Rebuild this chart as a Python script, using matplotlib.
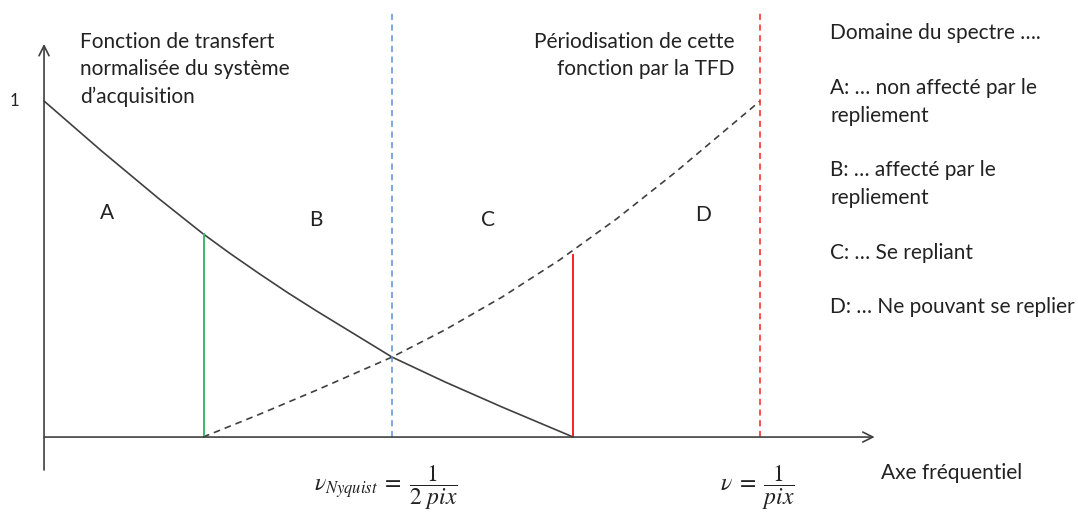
import matplotlib
matplotlib.use("Agg")
import matplotlib.pyplot as plt

plt.rcParams['font.family'] = ['Lato', 'DejaVu Sans']
plt.rcParams['mathtext.fontset'] = 'stix'

# frequency axis: 0 = origin, 1 = 1/pix ; gain axis: 0..1 (normalised)
f_nyquist = 0.486
f_sample = 1.0
f_green = 0.223
f_red = 0.739

# transfer function of the acquisition system
h_freq = [0.0, 0.08, 0.16, 0.222, 0.26, 0.30, 0.34, 0.38, 0.486, 0.56, 0.64, 0.739]
h_gain = [1.0, 0.852, 0.710, 0.605, 0.546, 0.487, 0.430, 0.376, 0.238, 0.164, 0.089, 0.0]

# periodisation by the DFT (mirror copy)
p_freq = [0.222, 0.30, 0.38, 0.486, 0.56, 0.64, 0.72, 0.80, 0.88, 1.0]
p_gain = [0.0, 0.067, 0.139, 0.238, 0.319, 0.417, 0.527, 0.650, 0.785, 1.0]

green_top = 0.604
red_top = 0.542

zone_labels = ['A', 'B', 'C', 'D']
zone_x = [0.088, 0.380, 0.620, 0.920]
zone_y = [0.667, 0.646, 0.646, 0.661]

legend_lines = ["Domaine du spectre \u2026.",
                "A: \u2026 non affect\u00e9 par le", "repliement",
                "B: \u2026 affect\u00e9 par le", "repliement",
                "C: \u2026 Se repliant",
                "D: \u2026 Ne pouvant se replier"]
legend_y = [1.202, 1.039, 0.955, 0.795, 0.711, 0.548, 0.387]

fig = plt.figure(figsize=(10.78, 5.13), dpi=100)
ax = fig.add_axes([0, 0, 1, 1])
ax.set_xlim(-0.0615, 1.444)
ax.set_ylim(-0.226, 1.3006)
ax.axis('off')

dark = '#404040'
txt = '#222222'
fs = 15

# axes with arrows
ax.annotate('', xy=(0, 1.17), xytext=(0, -0.098),
            arrowprops=dict(arrowstyle='->', color=dark, lw=1.2,
                            mutation_scale=18, shrinkA=0, shrinkB=0))
ax.annotate('', xy=(1.16, 0), xytext=(0, 0),
            arrowprops=dict(arrowstyle='->', color=dark, lw=1.2,
                            mutation_scale=18, shrinkA=0, shrinkB=0))

# curves
ax.plot(h_freq, h_gain, color=dark, lw=1.2, solid_joinstyle='round')
ax.plot(p_freq, p_gain, color=dark, lw=1.2, ls=(0, (4, 3)))

# vertical markers
ax.plot([f_nyquist, f_nyquist], [0, 1.271], color='#5b8fd6', lw=1.1, ls=(0, (4, 3)))
ax.plot([f_sample, f_sample], [0, 1.271], color='#ff2020', lw=1.1, ls=(0, (4, 3)))
ax.plot([f_green, f_green], [0, green_top], color='#3cb868', lw=1.4)
ax.plot([f_red, f_red], [0, red_top], color='#ff2020', lw=1.4)

ax.text(-0.042, 1.0, '1', fontsize=12, ha='center', va='center', color=txt)

for lab, x, y in zip(zone_labels, zone_x, zone_y):
    ax.text(x, y, lab, fontsize=fs, ha='center', va='center', color=txt)

ax.text(0.050, 1.205, "Fonction de transfert\nnormalis\u00e9e du syst\u00e8me\nd\u2019acquisition",
        fontsize=fs, ha='left', va='top', linespacing=1.45, color=txt)
ax.text(0.964, 1.205, "P\u00e9riodisation de cette\nfonction par la TFD",
        fontsize=fs, ha='right', va='top', multialignment='right',
        linespacing=1.45, color=txt)

for line, y in zip(legend_lines, legend_y):
    ax.text(1.098, y, line, fontsize=fs, ha='left', va='center', color=txt)

ax.text(1.169, -0.107, "Axe fr\u00e9quentiel", fontsize=fs, ha='left', va='center',
        color=txt)

ax.text(0.478, -0.150, r'$\nu_{Nyquist}\;=\;\dfrac{1}{2\ pix}$', fontsize=17,
        ha='center', va='center', color=txt)
ax.text(0.996, -0.150, r'$\nu\;=\;\dfrac{1}{pix}$', fontsize=17,
        ha='center', va='center', color=txt)

fig.savefig('out.png', dpi=100, facecolor='white')
